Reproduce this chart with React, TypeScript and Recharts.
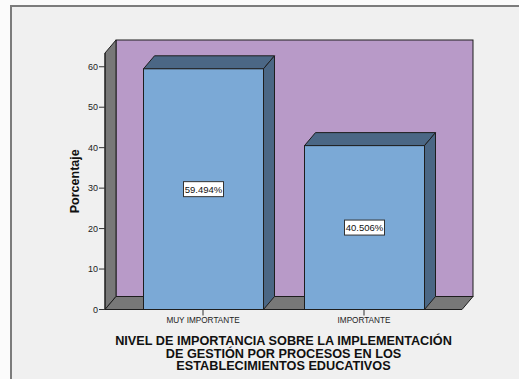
import { BarChart, Bar, XAxis, YAxis, ReferenceArea, LabelList } from 'recharts';

const categories = ['MUY IMPORTANTE', 'IMPORTANTE'];
const percentages = [59.494, 40.506];
const yTicks = [0, 10, 20, 30, 40, 50, 60];
const titleLines = [
  'NIVEL DE IMPORTANCIA SOBRE LA IMPLEMENTACIÓN',
  'DE GESTIÓN POR PROCESOS EN LOS',
  'ESTABLECIMIENTOS EDUCATIVOS',
];

const data = categories.map((name, i) => ({ name, value: percentages[i] }));

const DX = 11; // depth offset
const DY = 13;
const PAD = 17.5; // x axis padding, walls extend past it
const FONT = '"Liberation Sans", Arial, sans-serif';
const EDGE = '#1e1e1e';

const Walls = (props: any) => {
  const { x, y, width, height } = props;
  const x0 = x - PAD;
  const x1 = x + width + PAD;
  const top = y;
  const bot = y + height;
  return (
    <g>
      <rect x={x0 + DX} y={top - DY} width={x1 - x0} height={bot - top} fill="#b89ac8" stroke={EDGE} />
      <polygon
        points={`${x0},${bot} ${x0},${top} ${x0 + DX},${top - DY} ${x0 + DX},${bot - DY}`}
        fill="#787878"
        stroke={EDGE}
      />
      <polygon
        points={`${x0},${bot} ${x0 + DX},${bot - DY} ${x1 + DX},${bot - DY} ${x1},${bot}`}
        fill="#787878"
        stroke={EDGE}
      />
    </g>
  );
};

const Bar3D = (props: any) => {
  const { x, y, width, height } = props;
  const r = x + width;
  const b = y + height;
  return (
    <g>
      <polygon
        points={`${x},${y} ${x + DX},${y - DY} ${r + DX},${y - DY} ${r},${y}`}
        fill="#4b6785"
        stroke={EDGE}
      />
      <polygon
        points={`${r},${y} ${r + DX},${y - DY} ${r + DX},${b - DY} ${r},${b}`}
        fill="#4b6785"
        stroke={EDGE}
      />
      <rect x={x} y={y} width={width} height={height} fill="#7ba9d6" stroke={EDGE} />
    </g>
  );
};

const ValueBox = (props: any) => {
  const { x, y, width, height, value } = props;
  const cx = x + width / 2;
  const cy = y + height / 2;
  return (
    <g>
      <rect x={cx - 20} y={cy - 7.5} width={40} height={15} fill="#fff" stroke="#333" />
      <text x={cx} y={cy} textAnchor="middle" dominantBaseline="central" fontSize={9.5} fontFamily={FONT} fill="#111">
        {`${Number(value).toFixed(3)}%`}
      </text>
    </g>
  );
};

const XTitle = (props: any) => {
  const { viewBox } = props;
  const cx = viewBox.x + viewBox.width / 2;
  return (
    <g>
      {titleLines.map((line, i) => (
        <text
          key={i}
          x={cx}
          y={viewBox.y + 35.5 + i * 12.5}
          textAnchor="middle"
          fontSize={12.7}
          fontWeight="bold"
          fontFamily={FONT}
          fill="#111"
        >
          {line}
        </text>
      ))}
    </g>
  );
};

const YTitle = (props: any) => {
  const { viewBox } = props;
  const x = viewBox.x + 15;
  const y = viewBox.y + viewBox.height / 2;
  return (
    <text
      x={x}
      y={y}
      transform={`rotate(-90 ${x} ${y})`}
      textAnchor="middle"
      dominantBaseline="central"
      fontSize={12.5}
      fontWeight="bold"
      fontFamily={FONT}
      fill="#111"
    >
      Porcentaje
    </text>
  );
};

export default function App() {
  return (
    <div style={{ position: 'absolute', left: 0, top: 0, width: 519, height: 379, background: '#fbfbfb', overflow: 'hidden' }}>
      <div
        style={{
          position: 'absolute',
          left: 10,
          top: 5,
          width: 600,
          height: 500,
          borderTop: '2px solid #7c7c7c',
          borderLeft: '2px solid #7c7c7c',
          background: '#f0f0f0',
        }}
      />
      <div style={{ position: 'absolute', left: 0, top: 0 }}>
        <BarChart width={519} height={379} data={data} margin={{ top: 53, right: 57, bottom: 39.5, left: 60 }}>
          <ReferenceArea y1={0} y2={63.4} ifOverflow="visible" shape={<Walls />} />
          <XAxis
            dataKey="name"
            padding={{ left: PAD, right: PAD }}
            axisLine={false}
            tickSize={6}
            tickMargin={2}
            tickLine={{ stroke: '#333' }}
            tick={{ fontSize: 8.2, fill: '#222', fontFamily: FONT }}
            height={30}
            label={<XTitle />}
          />
          <YAxis
            domain={[0, 63.4]}
            ticks={yTicks}
            width={45}
            tickSize={6}
            tickMargin={1}
            axisLine={{ stroke: EDGE }}
            tickLine={{ stroke: '#333' }}
            tick={{ fontSize: 9, fill: '#222', fontFamily: FONT }}
            label={<YTitle />}
          />
          <Bar dataKey="value" barSize={120} shape={<Bar3D />} isAnimationActive={false}>
            <LabelList dataKey="value" content={<ValueBox />} />
          </Bar>
        </BarChart>
      </div>
    </div>
  );
}
